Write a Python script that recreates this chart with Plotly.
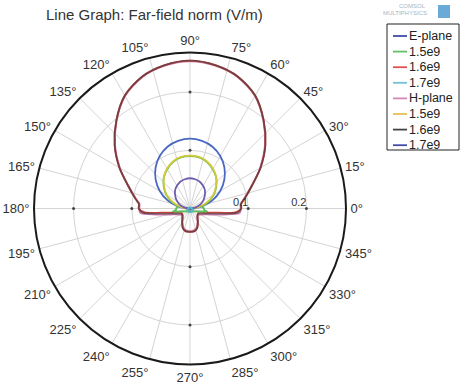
import plotly.graph_objects as go

W, H = 462, 386

# ---------------- data ----------------
THETA = [0, 5, 10, 20, 30, 40, 50, 60, 70, 80, 90, 100, 110, 120, 130, 140, 150, 160, 170, 175, 180,
         185, 190, 195, 200, 210, 220, 230, 240, 250, 260, 270, 280, 290, 300, 310, 320, 330, 340,
         345, 350, 355, 360]

e_plane = [0.004, 0.011, 0.021, 0.041, 0.060, 0.077, 0.092, 0.104, 0.113, 0.118, 0.120,
           0.118, 0.113, 0.104, 0.092, 0.077, 0.060, 0.041, 0.021, 0.011, 0.004,
           0.004, 0.003, 0.003, 0.003, 0.003, 0.003, 0.003, 0.003, 0.003, 0.003, 0.003,
           0.003, 0.003, 0.003, 0.003, 0.003, 0.003, 0.003, 0.003, 0.003, 0.004, 0.004]
e_15 = [0.024, 0.022, 0.023, 0.034, 0.047, 0.059, 0.070, 0.078, 0.085, 0.089, 0.090,
        0.089, 0.085, 0.078, 0.070, 0.059, 0.047, 0.034, 0.023, 0.022, 0.024,
        0.024, 0.030, 0.020, 0.015, 0.010, 0.008, 0.006, 0.006, 0.006, 0.006, 0.006,
        0.006, 0.006, 0.006, 0.006, 0.008, 0.010, 0.015, 0.020, 0.030, 0.024, 0.024]
e_16 = [0.088, 0.088, 0.095, 0.113, 0.140, 0.169, 0.197, 0.224, 0.241, 0.250, 0.254,
        0.250, 0.241, 0.224, 0.197, 0.169, 0.140, 0.113, 0.095, 0.088, 0.088,
        0.078, 0.040, 0.027, 0.020, 0.016, 0.017, 0.020, 0.027, 0.036, 0.040, 0.040,
        0.040, 0.036, 0.027, 0.020, 0.017, 0.016, 0.020, 0.027, 0.040, 0.078, 0.088]
e_17 = [0.002, 0.002, 0.002, 0.002, 0.002, 0.002, 0.002, 0.002, 0.002, 0.002, 0.002,
        0.002, 0.002, 0.002, 0.002, 0.002, 0.002, 0.002, 0.002, 0.002, 0.002,
        0.003, 0.004, 0.004, 0.005, 0.005, 0.005, 0.005, 0.006, 0.006, 0.006, 0.006,
        0.006, 0.006, 0.006, 0.005, 0.005, 0.005, 0.005, 0.004, 0.004, 0.003, 0.002]
h_plane = [0.087, 0.087, 0.094, 0.112, 0.139, 0.168, 0.196, 0.223, 0.240, 0.249, 0.253,
           0.249, 0.240, 0.223, 0.196, 0.168, 0.139, 0.112, 0.094, 0.087, 0.087,
           0.086, 0.060, 0.040, 0.030, 0.021, 0.018, 0.020, 0.026, 0.034, 0.038, 0.039,
           0.038, 0.034, 0.026, 0.020, 0.018, 0.021, 0.030, 0.040, 0.060, 0.086, 0.087]
h_15 = [0.004, 0.009, 0.016, 0.031, 0.046, 0.058, 0.070, 0.079, 0.086, 0.090, 0.091,
        0.090, 0.086, 0.079, 0.070, 0.058, 0.046, 0.031, 0.016, 0.009, 0.004,
        0.003, 0.003, 0.003, 0.003, 0.003, 0.003, 0.003, 0.003, 0.003, 0.003, 0.003,
        0.003, 0.003, 0.003, 0.003, 0.003, 0.003, 0.003, 0.003, 0.003, 0.003, 0.004]
h_16 = [0.088, 0.088, 0.095, 0.113, 0.140, 0.169, 0.197, 0.224, 0.241, 0.250, 0.254,
        0.250, 0.241, 0.224, 0.197, 0.169, 0.140, 0.113, 0.095, 0.088, 0.088,
        0.082, 0.050, 0.034, 0.025, 0.018, 0.017, 0.020, 0.027, 0.036, 0.040, 0.040,
        0.040, 0.036, 0.027, 0.020, 0.017, 0.018, 0.025, 0.034, 0.050, 0.082, 0.088]
h_17 = [0.002, 0.005, 0.009, 0.018, 0.026, 0.033, 0.040, 0.045, 0.049, 0.051, 0.052,
        0.051, 0.049, 0.045, 0.040, 0.033, 0.026, 0.018, 0.009, 0.005, 0.002,
        0.002, 0.002, 0.002, 0.002, 0.002, 0.002, 0.002, 0.002, 0.002, 0.002, 0.002,
        0.002, 0.002, 0.002, 0.002, 0.002, 0.002, 0.002, 0.002, 0.002, 0.002, 0.002]

legend_labels = ["E-plane", "1.5e9", "1.6e9", "1.7e9", "H-plane", "1.5e9", "1.6e9", "1.7e9"]
series = [e_plane, e_15, e_16, e_17, h_plane, h_15, h_16, h_17]
colors = ["#4a68c2", "#5cbf5c", "#dd4545", "#4fb8cc", "#d683b4", "#d2c83a", "#3a3a3a", "#6f5cb0"]
legend_colors = ["#3f4ca8", "#62c062", "#e05252", "#6cc4d4", "#d585b8", "#e8bf52", "#444444", "#3f4ca8"]
opacities = [1, 1, 1, 1, 1, 1, 0.62, 1]
draw_order = [4, 2, 6, 0, 1, 5, 7, 3]

radial_ticks = [0.1, 0.2]
radial_ticktext = ["0.1", "0.2"]
axis_angles = [0, 90, 180, 270]
R_MAX = 0.268

title_text = "Line Graph: Far-field norm (V/m)"

# ---------------- helpers ----------------
def px(x):
    return x / W

def py(y):
    return 1 - y / H

fig = go.Figure()

for i in draw_order:
    fig.add_trace(go.Scatterpolar(
        r=series[i], theta=THETA, mode="lines",
        line=dict(color=colors[i], width=1.8, shape="spline", smoothing=0.8),
        opacity=opacities[i], name=legend_labels[i], showlegend=False,
        hoverinfo="skip"))

# small tick dots along the main axes
dot_r = [r for r in radial_ticks for _ in axis_angles]
dot_t = [a for _ in radial_ticks for a in axis_angles]
fig.add_trace(go.Scatterpolar(r=dot_r, theta=dot_t, mode="markers",
                              marker=dict(size=3, color="#444"), showlegend=False,
                              hoverinfo="skip"))

# radial labels sit to the left of their tick (padding with no-break spaces)
pad = "\u00a0" * 5
radial_labels = [t + pad for t in radial_ticktext]

# ---------------- layout ----------------
cx, cy, rad = 190, 208.5, 156
fig.update_layout(
    width=W, height=H,
    margin=dict(l=0, r=0, t=0, b=0),
    paper_bgcolor="white",
    font=dict(family="Liberation Sans, Arial, sans-serif", color="#333"),
    polar=dict(
        domain=dict(x=[px(cx - rad), px(cx + rad)], y=[py(cy + rad), py(cy - rad)]),
        bgcolor="white",
        angularaxis=dict(
            rotation=0, direction="counterclockwise",
            dtick=15, ticksuffix="°",
            showline=True, linecolor="#1a1a1a", linewidth=2,
            gridcolor="#d4d4d4", gridwidth=1,
            ticks="outside", ticklen=1, tickcolor="rgba(0,0,0,0)",
            tickfont=dict(size=13, color="#333"),
        ),
        radialaxis=dict(
            range=[0, R_MAX], tickvals=radial_ticks, ticktext=radial_labels,
            angle=0, tickangle=0, side="counterclockwise",
            showline=False, gridcolor="#d4d4d4", gridwidth=1,
            ticks="", tickfont=dict(size=11, color="#333"),
        ),
    ),
)

annotations = [dict(text=title_text, x=px(44), y=py(14), xref="paper", yref="paper",
                    xanchor="left", yanchor="middle", showarrow=False,
                    font=dict(size=15, color="#333"))]
shapes = []

# COMSOL logo (small text + icon)
annotations.append(dict(text="COMSOL", x=px(412), y=py(6), xref="paper", yref="paper",
                        xanchor="center", yanchor="middle", showarrow=False,
                        font=dict(size=6, color="#a8b4c4")))
annotations.append(dict(text="MULTIPHYSICS", x=px(405), y=py(13), xref="paper", yref="paper",
                        xanchor="center", yanchor="middle", showarrow=False,
                        font=dict(size=6, color="#a8b4c4")))
shapes.append(dict(type="rect", xref="paper", yref="paper",
                   x0=px(438), x1=px(450), y0=py(18), y1=py(5),
                   fillcolor="#6aaad6", line=dict(width=0)))

# custom legend
lx0, lx1, ly0, ly1 = 387, 459, 24, 150
shapes.append(dict(type="rect", xref="paper", yref="paper",
                   x0=px(lx0), x1=px(lx1), y0=py(ly1), y1=py(ly0),
                   fillcolor="white", line=dict(color="#222", width=1)))
for k, (lab, col) in enumerate(zip(legend_labels, legend_colors)):
    yy = 36 + k * 15.6
    shapes.append(dict(type="line", xref="paper", yref="paper",
                       x0=px(393), x1=px(407), y0=py(yy), y1=py(yy),
                       line=dict(color=col, width=1.8)))
    annotations.append(dict(text=lab, x=px(407), y=py(yy), xref="paper", yref="paper",
                            xanchor="left", yanchor="middle", showarrow=False,
                            font=dict(size=12.5, color="#222")))

fig.update_layout(annotations=annotations, shapes=shapes)

fig.write_html("out.html")
